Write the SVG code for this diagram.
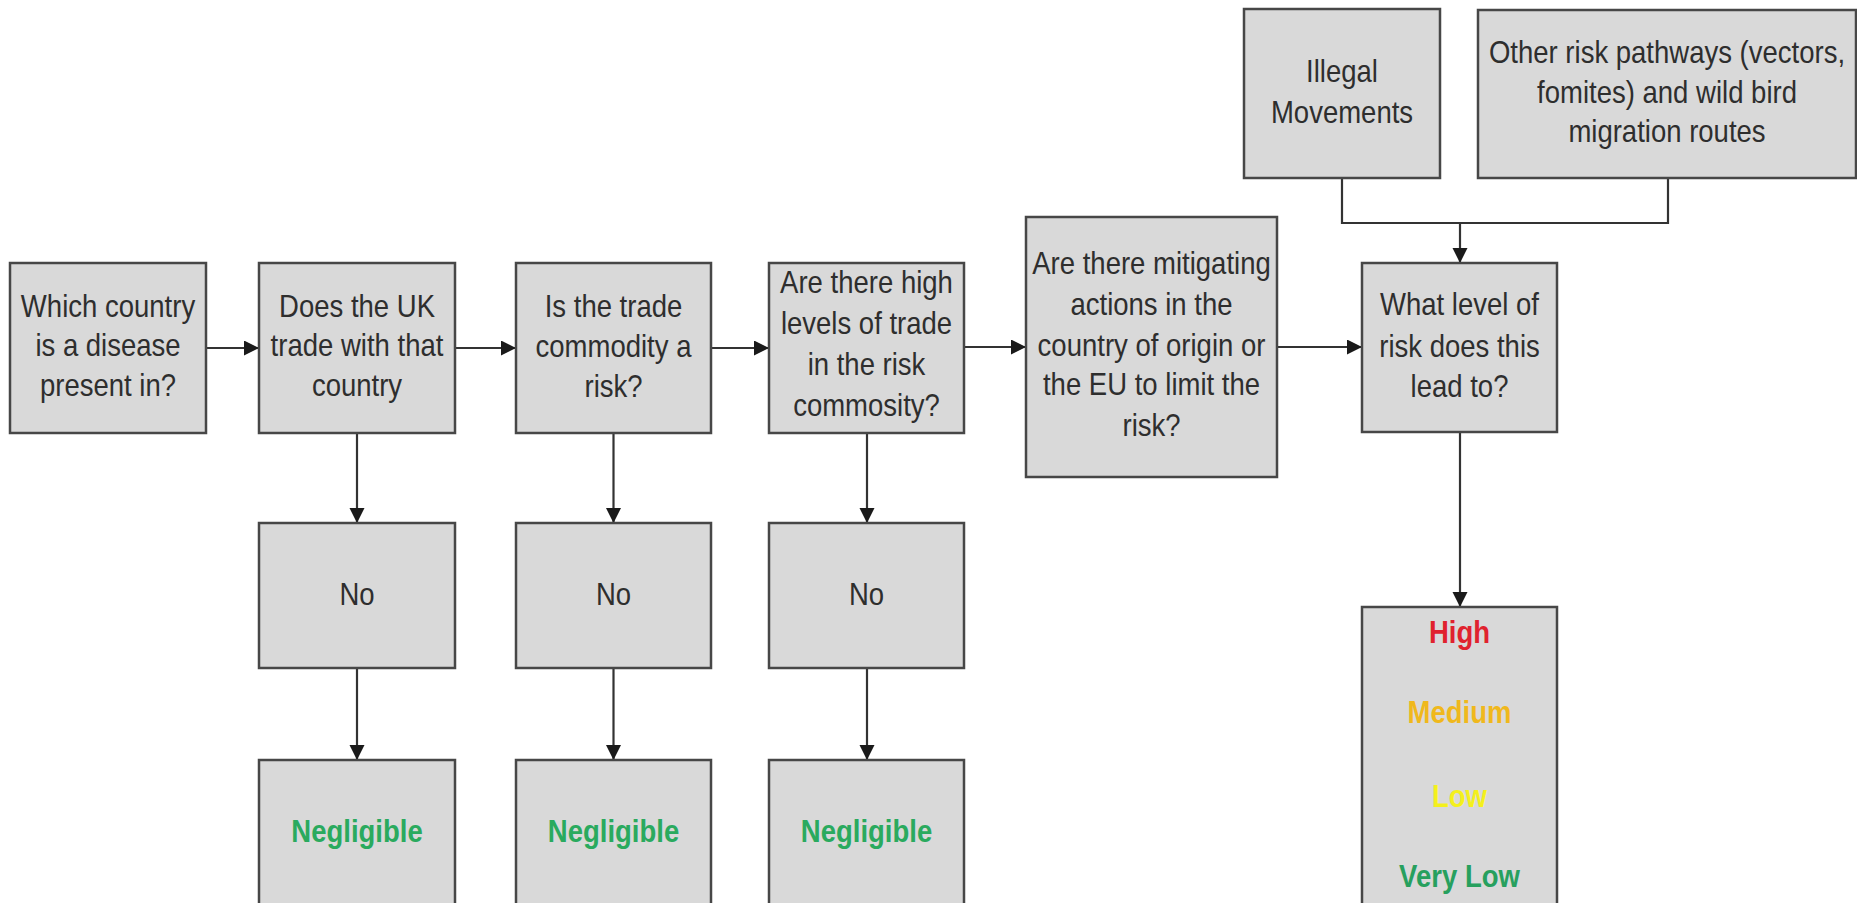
<svg xmlns="http://www.w3.org/2000/svg" width="1857" height="903" viewBox="0 0 1857 903">
<style>
.box{fill:#d9d9d9;stroke:#474747;stroke-width:2.5}
.t{font-family:"Liberation Sans",Arial,sans-serif;font-size:32px;fill:#2e2e2e;text-anchor:middle}
.b{font-weight:bold}
.neg{fill:#2aaa5e}
.c{fill:none;stroke:#333;stroke-width:2.2}
</style>
<defs>
<marker id="ah" markerUnits="userSpaceOnUse" markerWidth="16" markerHeight="16" refX="15" refY="7.5" orient="auto">
<path d="M0,0 L15,7.5 L0,15 z" fill="#1a1a1a"/>
</marker>
</defs>
<rect width="1857" height="903" fill="#ffffff"/>
<g id="connectors">
<path class="c" d="M206 348 H259" marker-end="url(#ah)"/>
<path class="c" d="M455 348 H516" marker-end="url(#ah)"/>
<path class="c" d="M711 348 H769" marker-end="url(#ah)"/>
<path class="c" d="M964 347 H1026" marker-end="url(#ah)"/>
<path class="c" d="M1277 347 H1362" marker-end="url(#ah)"/>
<path class="c" d="M357 433 V523" marker-end="url(#ah)"/>
<path class="c" d="M357 668 V760" marker-end="url(#ah)"/>
<path class="c" d="M613.5 433 V523" marker-end="url(#ah)"/>
<path class="c" d="M613.5 668 V760" marker-end="url(#ah)"/>
<path class="c" d="M867 433 V523" marker-end="url(#ah)"/>
<path class="c" d="M867 668 V760" marker-end="url(#ah)"/>
<path class="c" d="M1460 432 V607" marker-end="url(#ah)"/>
<path class="c" d="M1342 178 V223 H1668 V178"/>
<path class="c" d="M1460 223 V263" marker-end="url(#ah)"/>
</g>
<g id="n1">
<rect class="box" x="10" y="263" width="196" height="170"/>
<text class="t" transform="translate(108 0) scale(0.86 1)"><tspan x="0" y="317">Which country</tspan><tspan x="0" y="356">is a disease</tspan><tspan x="0" y="396">present in?</tspan></text>
</g>
<g id="n2">
<rect class="box" x="259" y="263" width="196" height="170"/>
<text class="t" transform="translate(357 0) scale(0.86 1)"><tspan x="0" y="317">Does the UK</tspan><tspan x="0" y="356">trade with that</tspan><tspan x="0" y="396">country</tspan></text>
</g>
<g id="n3">
<rect class="box" x="516" y="263" width="195" height="170"/>
<text class="t" transform="translate(613.5 0) scale(0.86 1)"><tspan x="0" y="317">Is the trade</tspan><tspan x="0" y="357">commodity a</tspan><tspan x="0" y="397">risk?</tspan></text>
</g>
<g id="n4">
<rect class="box" x="769" y="263" width="195" height="170"/>
<text class="t" transform="translate(866.5 0) scale(0.86 1)"><tspan x="0" y="293">Are there high</tspan><tspan x="0" y="334">levels of trade</tspan><tspan x="0" y="375">in the risk</tspan><tspan x="0" y="416">commosity?</tspan></text>
</g>
<g id="n5">
<rect class="box" x="1026" y="217" width="251" height="260"/>
<text class="t" transform="translate(1151.5 0) scale(0.86 1)"><tspan x="0" y="274">Are there mitigating</tspan><tspan x="0" y="315">actions in the</tspan><tspan x="0" y="356">country of origin or</tspan><tspan x="0" y="395">the EU to limit the</tspan><tspan x="0" y="436">risk?</tspan></text>
</g>
<g id="n6">
<rect class="box" x="1362" y="263" width="195" height="169"/>
<text class="t" transform="translate(1459.5 0) scale(0.86 1)"><tspan x="0" y="315">What level of</tspan><tspan x="0" y="357">risk does this</tspan><tspan x="0" y="397">lead to?</tspan></text>
</g>
<g id="illegal">
<rect class="box" x="1244" y="9" width="196" height="169"/>
<text class="t" transform="translate(1342 0) scale(0.86 1)"><tspan x="0" y="82">Illegal</tspan><tspan x="0" y="123">Movements</tspan></text>
</g>
<g id="other">
<rect class="box" x="1478" y="10" width="378" height="168"/>
<text class="t" transform="translate(1667 0) scale(0.86 1)"><tspan x="0" y="63">Other risk pathways (vectors,</tspan><tspan x="0" y="103">fomites) and wild bird</tspan><tspan x="0" y="142">migration routes</tspan></text>
</g>
<g id="no1">
<rect class="box" x="259" y="523" width="196" height="145"/>
<text class="t" transform="translate(357 0) scale(0.86 1)" x="0" y="605">No</text>
</g>
<g id="no2">
<rect class="box" x="516" y="523" width="195" height="145"/>
<text class="t" transform="translate(613.5 0) scale(0.86 1)" x="0" y="605">No</text>
</g>
<g id="no3">
<rect class="box" x="769" y="523" width="195" height="145"/>
<text class="t" transform="translate(866.5 0) scale(0.86 1)" x="0" y="605">No</text>
</g>
<g id="neg1">
<rect class="box" x="259" y="760" width="196" height="160"/>
<text class="t b neg" transform="translate(357 0) scale(0.86 1)" x="0" y="842">Negligible</text>
</g>
<g id="neg2">
<rect class="box" x="516" y="760" width="195" height="160"/>
<text class="t b neg" transform="translate(613.5 0) scale(0.86 1)" x="0" y="842">Negligible</text>
</g>
<g id="neg3">
<rect class="box" x="769" y="760" width="195" height="160"/>
<text class="t b neg" transform="translate(866.5 0) scale(0.86 1)" x="0" y="842">Negligible</text>
</g>
<g id="levels">
<rect class="box" x="1362" y="607" width="195" height="310"/>
<text class="t b" transform="translate(1459.5 0) scale(0.86 1)" x="0" y="643" style="fill:#e0222e">High</text>
<text class="t b" transform="translate(1459.5 0) scale(0.86 1)" x="0" y="723" style="fill:#f0b81c">Medium</text>
<text class="t b" transform="translate(1459.5 0) scale(0.86 1)" x="0" y="807" style="fill:#f4f01c">Low</text>
<text class="t b" transform="translate(1459.5 0) scale(0.86 1)" x="0" y="887" style="fill:#27a05e">Very Low</text>
</g>
</svg>
